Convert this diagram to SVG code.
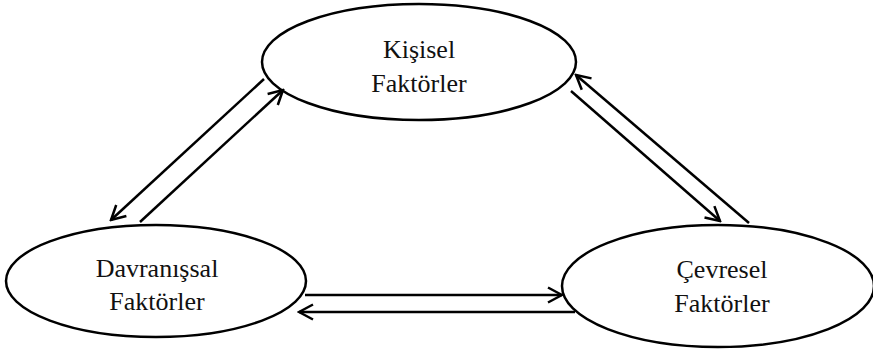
<svg xmlns="http://www.w3.org/2000/svg" width="873" height="354" viewBox="0 0 873 354">
<style>
.node ellipse{fill:#fff;stroke:#000;stroke-width:2.5}
.node text{font-family:"Liberation Serif","Times New Roman",serif;font-size:26px;fill:#111;text-anchor:middle}
.conn line{stroke:#000;stroke-width:2.5;fill:none}
</style>
<defs>
<marker id="ah" viewBox="0 0 18 18" refX="16" refY="9" markerWidth="18" markerHeight="18" markerUnits="userSpaceOnUse" orient="auto">
<path d="M2,1.5 L16,9 L2,16.5" fill="none" stroke="#000" stroke-width="2.5"/>
</marker>
</defs>
<rect width="873" height="354" fill="#fff"/>
<g id="kisisel" class="node">
<ellipse cx="419" cy="62" rx="157" ry="58"/>
<text x="419" y="58">Kişisel</text>
<text x="419" y="92">Faktörler</text>
</g>
<g id="davranissal" class="node">
<ellipse cx="156" cy="281" rx="150" ry="56"/>
<text x="157" y="277">Davranışsal</text>
<text x="157" y="310">Faktörler</text>
</g>
<g id="cevresel" class="node">
<ellipse cx="718" cy="286" rx="156" ry="61"/>
<text x="722" y="278">Çevresel</text>
<text x="722" y="312">Faktörler</text>
</g>
<g id="connectors" class="conn">
<line x1="264" y1="79" x2="111" y2="220" marker-end="url(#ah)"/>
<line x1="140" y1="222" x2="283" y2="90" marker-end="url(#ah)"/>
<line x1="571" y1="91" x2="720" y2="221" marker-end="url(#ah)"/>
<line x1="749" y1="223" x2="576" y2="75" marker-end="url(#ah)"/>
<line x1="305" y1="295" x2="562" y2="295" marker-end="url(#ah)"/>
<line x1="575" y1="312" x2="299" y2="312" marker-end="url(#ah)"/>
</g>
</svg>
